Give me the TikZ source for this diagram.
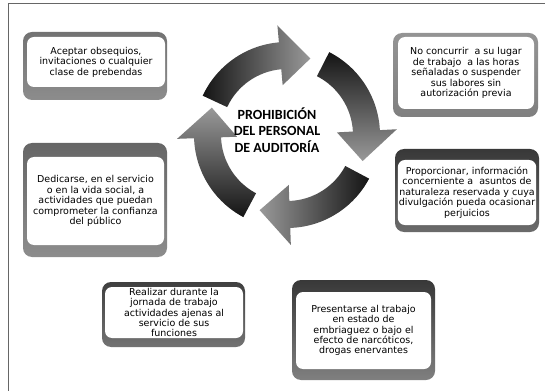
\documentclass[tikz,border=0pt]{standalone}
\usepackage{fontspec}
\setmainfont{DejaVu Sans}
\newfontfamily\titlefont{Carlito}
\usepackage{xcolor}
\usepackage{tikz}
\tikzstyle{marco} = [rectangle, rounded corners=9pt, draw=none]
\tikzstyle{caja} = [rectangle, rounded corners=7pt, fill=white, align=center, inner sep=1pt, font=\fontsize{9.5}{10.4}\selectfont]
\tikzstyle{titulo} = [align=center, font=\titlefont\bfseries\fontsize{14}{16.7}\selectfont]
\tikzstyle{flecha} = [top color=black!92, bottom color=black!40]

\begin{document}
\begin{tikzpicture}[x=1pt, y=1pt]
    \useasboundingbox (0,0) rectangle (545,391);
    \draw [black!60, line width=1pt] (545,387) -- (8,387) -- (8,0);

    % Cycle
    \begin{scope}[shift={(287,256)}]
    \foreach \b/\ang in {95/90, 3/0, -88/-90, -178/180} {
        \shade [flecha, shading angle=\ang]
            (\b+60:93) arc[start angle=\b+60, end angle=\b, radius=93]
            -- (\b:110) -- (\b-22:80) -- (\b:50) -- (\b:66)
            arc[start angle=\b, end angle=\b+60, radius=66] -- cycle;
    }
    \end{scope}
    \node (tit) [titulo] at (277,261) {PROHIBICIÓN\\DEL PERSONAL\\DE AUDITORÍA};

    % Frames
    \node (aceptarM) [marco, minimum width=144pt, minimum height=68pt, top color=black!55, bottom color=black!45] at (95,325) {};
    \node (concurrirM) [marco, minimum width=145pt, minimum height=84pt, top color=black!42, bottom color=black!50] at (465.5,316) {};
    \node (proporcionarM) [marco, minimum width=144pt, minimum height=83pt, top color=black!78, bottom color=black!58] at (467,200.5) {};
    \node (dedicarseM) [marco, minimum width=144pt, minimum height=114pt, top color=black!60, bottom color=black!45] at (95,191) {};
    \node (realizarM) [marco, minimum width=143pt, minimum height=65pt, top color=black!75, bottom color=black!55] at (173.5,76.5) {};
    \node (presentarseM) [marco, minimum width=143pt, minimum height=100pt, top color=black!78, bottom color=black!50] at (363.5,61) {};

    % Nodes
    \node (aceptar) [caja, minimum width=138pt, minimum height=50pt] at (96,329) {Aceptar obsequios,\\invitaciones o cualquier\\clase de prebendas};
    \node (concurrir) [caja, minimum width=136pt, minimum height=72pt] at (466,318) {No concurrir\ \ a su lugar\\de trabajo\ \ a las horas\\señaladas o suspender\\sus labores sin\\autorización previa};
    \node (proporcionar) [caja, minimum width=136pt, minimum height=65pt] at (467,198.5) {Proporcionar, información\\concerniente a\ \ asuntos de\\naturaleza reservada y cuya\\divulgación pueda ocasionar\\perjuicios};
    \node (dedicarse) [caja, minimum width=137pt, minimum height=88pt] at (95.5,190) {Dedicarse, en el servicio\\o en la vida social, a\\actividades que puedan\\comprometer la confianza\\del público};
    \node (realizar) [caja, minimum width=138pt, minimum height=51pt] at (174,78.5) {Realizar durante la\\jornada de trabajo\\actividades ajenas al\\servicio de sus\\funciones};
    \node (presentarse) [caja, minimum width=135pt, minimum height=77pt] at (363.5,60.5) {Presentarse al trabajo\\en estado de\\embriaguez o bajo el\\efecto de narcóticos,\\drogas enervantes};

\end{tikzpicture}
\end{document}
